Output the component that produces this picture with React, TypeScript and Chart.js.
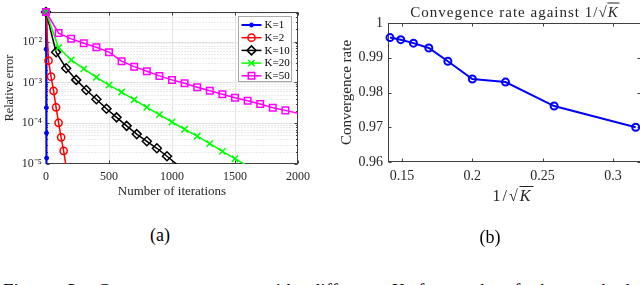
import React, { useEffect, useRef } from 'react';
import { Chart, registerables } from 'chart.js';
import { drawPoint } from 'chart.js/helpers';

Chart.register(...registerables);

const FONT = "'Liberation Serif', 'Times New Roman', serif";
const AXIS_COLOR = '#262626';

// ---------- (a) Relative error vs iterations ----------
const seriesLabels = ['K=1', 'K=2', 'K=10', 'K=20', 'K=50'];
const iterK1 = [0, 1, 3, 4, 5, 6];
const errK1 = [0.053, 6.5e-3, 2.4e-4, 5.75e-5, 1.4e-5, 3.4e-6];
const iterK2 = [0, 20, 40, 60, 80, 100, 120, 140, 160];
const errK2 = [0.053, 3.4e-3, 1.38e-3, 6.2e-4, 2.45e-4, 1.02e-4, 4.5e-5, 2.1e-5, 8.5e-6];
const iterK10 = [0, 80, 160, 240, 320, 400, 480, 560, 640, 720, 800, 880, 960, 1040];
const errK10 = [0.053, 5.5e-3, 2.22e-3, 1.15e-3, 6.5e-4, 3.85e-4, 2.26e-4, 1.39e-4, 8.6e-5, 5.4e-5, 3.6e-5, 2.43e-5, 1.55e-5, 9.7e-6];
const iterK20 = [0, 100, 200, 300, 400, 500, 600, 700, 800, 900, 1000, 1100, 1200, 1300, 1400, 1500, 1600];
const errK20 = [0.053, 7.1e-3, 3.55e-3, 2.14e-3, 1.33e-3, 8.6e-4, 5.8e-4, 3.76e-4, 2.45e-4, 1.62e-4, 1.07e-4, 7.1e-5, 4.8e-5, 3.16e-5, 2.04e-5, 1.35e-5, 8.9e-6];
const iterK50 = [0, 100, 200, 300, 400, 500, 600, 700, 800, 900, 1000, 1100, 1200, 1300, 1400, 1500, 1600, 1700, 1800, 1900, 2000];
const errK50 = [0.053, 1.61e-2, 1.165e-2, 9.1e-3, 7.27e-3, 5.5e-3, 3.3e-3, 2.43e-3, 1.88e-3, 1.44e-3, 1.15e-3, 9.5e-4, 7.6e-4, 6.25e-4, 5.12e-4, 4.2e-4, 3.55e-4, 2.95e-4, 2.4e-4, 2.06e-4, 1.74e-4];
const xTicksA = [0, 500, 1000, 1500, 2000];
const yTicksA = [1e-5, 1e-4, 1e-3, 1e-2];
const yTickLabelsA = ['10\u207B\u2075', '10\u207B\u2074', '10\u207B\u00B3', '10\u207B\u00B2'];
const X_MIN_A = 0;
const X_MAX_A = 2000;
const Y_MIN_A = 1e-5;
const Y_MAX_A = 0.053;

// ---------- (b) Convergence rate vs 1/sqrt(K) ----------
const kValues = [50, 45, 40, 35, 30, 25, 20, 15, 10];
const rates = [0.9958, 0.9952, 0.9942, 0.9928, 0.989, 0.9839, 0.983, 0.9761, 0.9700];
const xTicksB = [0.15, 0.2, 0.25, 0.3];
const xTickLabelsB = ['0.15', '0.2', '0.25', '0.3'];
const yTicksB = [0.96, 0.97, 0.98, 0.99, 1];
const yTickLabelsB = ['0.96', '0.97', '0.98', '0.99', '1'];

// ---------- styles ----------
type SeriesStyle = { color: string; width: number; pointStyle: any; radius: number; pw: number; fill: string };
const stylesA: SeriesStyle[] = [
  { color: '#0000ff', width: 2, pointStyle: 'circle', radius: 2, pw: 1, fill: '#0000ff' },
  { color: '#ff0000', width: 1.5, pointStyle: 'circle', radius: 3.6, pw: 1.5, fill: 'rgba(0,0,0,0)' },
  { color: '#000000', width: 1.5, pointStyle: 'rectRot', radius: 4.5, pw: 1.5, fill: 'rgba(0,0,0,0)' },
  { color: '#00ff00', width: 1.5, pointStyle: 'crossRot', radius: 4.5, pw: 1.5, fill: 'rgba(0,0,0,0)' },
  { color: '#ff00ff', width: 1.5, pointStyle: 'rect', radius: 4.6, pw: 1.5, fill: 'rgba(0,0,0,0)' },
];

function zip(xs: number[], ys: number[]) {
  return xs.map((x, i) => ({ x, y: ys[i] }));
}

function makeFramePlugin(cfg: {
  xTicks: number[];
  yTicks: number[];
  yMinor?: number[];
  grid?: boolean;
  tickLen: number;
}) {
  return {
    id: 'frame',
    beforeDatasetsDraw(chart: any) {
      const { ctx, chartArea: a, scales } = chart;
      const x = scales.x;
      const y = scales.y;
      const L = Math.round(a.left) + 0.5;
      const R = Math.round(a.right) - 0.5;
      const T = Math.round(a.top) + 0.5;
      const B = Math.round(a.bottom) - 0.5;
      ctx.save();
      if (cfg.grid) {
        ctx.lineWidth = 1;
        ctx.strokeStyle = '#d6d6d6';
        ctx.setLineDash([1, 2]);
        (cfg.yMinor || []).forEach((v) => {
          const py = Math.round(y.getPixelForValue(v)) + 0.5;
          if (py <= T || py >= B) return;
          ctx.beginPath();
          ctx.moveTo(L, py);
          ctx.lineTo(R, py);
          ctx.stroke();
        });
        ctx.setLineDash([]);
        ctx.strokeStyle = '#e3e3e3';
        cfg.yTicks.forEach((v) => {
          const py = Math.round(y.getPixelForValue(v)) + 0.5;
          if (py <= T || py >= B) return;
          ctx.beginPath();
          ctx.moveTo(L, py);
          ctx.lineTo(R, py);
          ctx.stroke();
        });
        cfg.xTicks.forEach((v) => {
          const px = Math.round(x.getPixelForValue(v)) + 0.5;
          if (px <= L || px >= R) return;
          ctx.beginPath();
          ctx.moveTo(px, T);
          ctx.lineTo(px, B);
          ctx.stroke();
        });
      }
      // box
      ctx.strokeStyle = '#404040';
      ctx.lineWidth = 1;
      ctx.strokeRect(L, T, R - L, B - T);
      // tick marks
      const tl = cfg.tickLen;
      ctx.beginPath();
      cfg.xTicks.forEach((v) => {
        const px = Math.round(x.getPixelForValue(v)) + 0.5;
        ctx.moveTo(px, B);
        ctx.lineTo(px, B - tl);
        ctx.moveTo(px, T);
        ctx.lineTo(px, T + tl);
      });
      cfg.yTicks.forEach((v) => {
        const py = Math.round(y.getPixelForValue(v)) + 0.5;
        ctx.moveTo(L, py);
        ctx.lineTo(L + tl, py);
        ctx.moveTo(R, py);
        ctx.lineTo(R - tl, py);
      });
      (cfg.yMinor || []).forEach((v) => {
        const py = Math.round(y.getPixelForValue(v)) + 0.5;
        if (py <= T || py >= B) return;
        ctx.moveTo(L, py);
        ctx.lineTo(L + tl * 0.5, py);
        ctx.moveTo(R, py);
        ctx.lineTo(R - tl * 0.5, py);
      });
      ctx.stroke();
      ctx.restore();
    },
  };
}

const legendPluginA = {
  id: 'lineLegend',
  afterDatasetsDraw(chart: any) {
    const { ctx, chartArea: a } = chart;
    const w = 53;
    const h = 65;
    const bx = Math.round(a.right) - 6.5 - w;
    const by = Math.round(a.top) + 4.5;
    ctx.save();
    ctx.fillStyle = '#ffffff';
    ctx.fillRect(bx, by, w, h);
    ctx.strokeStyle = '#a8a8a8';
    ctx.lineWidth = 1;
    ctx.strokeRect(bx, by, w, h);
    chart.data.datasets.forEach((ds: any, i: number) => {
      const st = stylesA[i];
      const yy = by + 8.5 + i * 12.7;
      ctx.strokeStyle = st.color;
      ctx.lineWidth = st.width;
      ctx.beginPath();
      ctx.moveTo(bx + 3, yy);
      ctx.lineTo(bx + 23, yy);
      ctx.stroke();
      ctx.fillStyle = st.fill;
      ctx.strokeStyle = st.color;
      ctx.lineWidth = st.pw;
      drawPoint(ctx, { pointStyle: st.pointStyle, rotation: 0, radius: st.radius, borderWidth: st.pw } as any, bx + 13, yy);
      ctx.fillStyle = '#000000';
      ctx.font = `11px ${FONT}`;
      ctx.textBaseline = 'middle';
      ctx.textAlign = 'left';
      ctx.fillText(ds.label, bx + 26, yy + 0.5);
    });
    ctx.restore();
  },
};

function minorLogTicks(min: number, max: number) {
  const out: number[] = [];
  for (let e = Math.floor(Math.log10(min)); e <= Math.ceil(Math.log10(max)); e++) {
    for (let k = 2; k <= 9; k++) {
      const v = k * Math.pow(10, e);
      if (v > min && v < max) out.push(v);
    }
  }
  return out;
}

function Txt(props: { x: number; y: number; size: number; children: any; style?: any }) {
  return (
    <div
      style={{
        position: 'absolute',
        left: props.x,
        top: props.y,
        transform: 'translate(-50%, -50%)',
        fontFamily: FONT,
        fontSize: props.size,
        lineHeight: 1,
        whiteSpace: 'nowrap',
        color: AXIS_COLOR,
        ...(props.style || {}),
      }}
    >
      {props.children}
    </div>
  );
}

const SqrtK = () => (
  <span>
    1/√<span style={{ fontStyle: 'italic', borderTop: '1px solid #262626', paddingRight: 1 }}>K</span>
  </span>
);

export default function App() {
  const refA = useRef<HTMLCanvasElement>(null);
  const refB = useRef<HTMLCanvasElement>(null);

  useEffect(() => {
    const seriesData = [zip(iterK1, errK1), zip(iterK2, errK2), zip(iterK10, errK10), zip(iterK20, errK20), zip(iterK50, errK50)];
    const datasetsA = seriesData.map((d, i) => {
      const st = stylesA[i];
      return {
        label: seriesLabels[i],
        data: d,
        borderColor: st.color,
        borderWidth: st.width,
        pointStyle: st.pointStyle,
        pointRadius: (c: any) => {
          const r = c.raw;
          if (!r) return st.radius;
          if (r.y < Y_MIN_A || r.x >= X_MAX_A) return 0;
          return st.radius;
        },
        pointBorderWidth: st.pw,
        pointBorderColor: st.color,
        pointBackgroundColor: st.fill,
        tension: 0,
        order: seriesLabels.length - i,
        clip: { left: 8, top: 8, right: 0, bottom: 0 },
      };
    });

    const tickFontA = { family: FONT, size: 12 };
    const chartA = new Chart(refA.current as HTMLCanvasElement, {
      type: 'line',
      data: { datasets: datasetsA as any },
      options: {
        animation: false,
        responsive: false,
        devicePixelRatio: 1,
        events: [],
        layout: { padding: { left: 0, right: 22, top: 12, bottom: 13 } },
        plugins: { legend: { display: false }, tooltip: { enabled: false }, title: { display: false } },
        scales: {
          x: {
            type: 'linear',
            min: X_MIN_A,
            max: X_MAX_A,
            grid: { display: false, drawTicks: false },
            border: { display: false },
            afterBuildTicks: (s: any) => {
              s.ticks = xTicksA.map((v) => ({ value: v }));
            },
            afterFit: (s: any) => {
              s.height = 38;
            },
            ticks: {
              autoSkip: false,
              maxRotation: 0,
              padding: 6,
              color: AXIS_COLOR,
              font: tickFontA,
              callback: (v: any) => String(v),
            },
            title: {
              display: true,
              text: 'Number of iterations',
              color: AXIS_COLOR,
              font: { family: FONT, size: 13 },
              padding: { top: 4, bottom: 3 },
            },
          },
          y: {
            type: 'logarithmic',
            min: Y_MIN_A,
            max: Y_MAX_A,
            grid: { display: false, drawTicks: false },
            border: { display: false },
            afterBuildTicks: (s: any) => {
              s.ticks = yTicksA.map((v) => ({ value: v }));
            },
            afterFit: (s: any) => {
              s.width = 46;
            },
            ticks: {
              autoSkip: false,
              padding: 4,
              color: AXIS_COLOR,
              font: tickFontA,
              callback: (v: any) => {
                const idx = yTicksA.indexOf(Number(v));
                return idx >= 0 ? yTickLabelsA[idx] : '';
              },
            },
            title: {
              display: true,
              text: 'Relative error',
              color: AXIS_COLOR,
              font: { family: FONT, size: 12 },
              padding: { top: 3, bottom: 4 },
            },
          },
        },
      } as any,
      plugins: [
        makeFramePlugin({ xTicks: xTicksA, yTicks: yTicksA, yMinor: minorLogTicks(Y_MIN_A, Y_MAX_A), grid: true, tickLen: 3 }),
        legendPluginA,
      ],
    });

    const tickFontB = { family: FONT, size: 14 };
    const chartB = new Chart(refB.current as HTMLCanvasElement, {
      type: 'line',
      data: {
        datasets: [
          {
            label: 'Convergence rate',
            data: kValues.map((k, i) => ({ x: 1 / Math.sqrt(k), y: rates[i] })),
            borderColor: '#0000ff',
            borderWidth: 2,
            pointStyle: 'circle',
            pointRadius: 3.5,
            pointBorderWidth: 2,
            pointBorderColor: '#0000ff',
            pointBackgroundColor: 'rgba(0,0,0,0)',
            tension: 0,
            clip: 10,
          } as any,
        ],
      },
      options: {
        animation: false,
        responsive: false,
        devicePixelRatio: 1,
        events: [],
        layout: { padding: { left: 15, right: 9, top: 23, bottom: 13 } },
        plugins: { legend: { display: false }, tooltip: { enabled: false }, title: { display: false } },
        scales: {
          x: {
            type: 'linear',
            min: 0.14,
            max: 0.32,
            grid: { display: false, drawTicks: false },
            border: { display: false },
            afterBuildTicks: (s: any) => {
              s.ticks = xTicksB.map((v) => ({ value: v }));
            },
            afterFit: (s: any) => {
              s.height = 40;
            },
            ticks: {
              autoSkip: false,
              maxRotation: 0,
              padding: 6,
              color: AXIS_COLOR,
              font: tickFontB,
              callback: (v: any) => {
                const idx = xTicksB.indexOf(Number(v));
                return idx >= 0 ? xTickLabelsB[idx] : '';
              },
            },
          },
          y: {
            type: 'linear',
            min: 0.96,
            max: 1,
            grid: { display: false, drawTicks: false },
            border: { display: false },
            afterBuildTicks: (s: any) => {
              s.ticks = yTicksB.map((v) => ({ value: v }));
            },
            afterFit: (s: any) => {
              s.width = 53;
            },
            ticks: {
              autoSkip: false,
              padding: 5,
              color: AXIS_COLOR,
              font: tickFontB,
              callback: (v: any) => {
                const idx = yTicksB.indexOf(Number(v));
                return idx >= 0 ? yTickLabelsB[idx] : '';
              },
            },
            title: {
              display: true,
              text: 'Convergence rate',
              color: AXIS_COLOR,
              font: { family: FONT, size: 15 },
              padding: { top: 3, bottom: 4 },
            },
          },
        },
      } as any,
      plugins: [makeFramePlugin({ xTicks: xTicksB, yTicks: yTicksB, grid: false, tickLen: 3 })],
    });

    return () => {
      chartA.destroy();
      chartB.destroy();
    };
  }, []);

  return (
    <div
      style={{
        position: 'absolute',
        left: 0,
        top: 0,
        width: 640,
        height: 285,
        overflow: 'hidden',
        background: '#ffffff',
      }}
    >
      <canvas ref={refA} width={320} height={215} style={{ position: 'absolute', left: 0, top: 0, width: 320, height: 215 }} />
      <canvas ref={refB} width={330} height={215} style={{ position: 'absolute', left: 320, top: 0, width: 330, height: 215 }} />
      <Txt x={515} y={12} size={15} style={{ letterSpacing: 1 }}>
        Convegence rate against <SqrtK />
      </Txt>
      <Txt x={513} y={196} size={16} style={{ letterSpacing: 2 }}>
        <SqrtK />
      </Txt>
      <Txt x={160} y={235} size={18} style={{ color: '#000' }}>
        (a)
      </Txt>
      <Txt x={490} y={237} size={18} style={{ color: '#000' }}>
        (b)
      </Txt>
      <div
        style={{
          position: 'absolute',
          left: 3,
          top: 280,
          fontFamily: FONT,
          fontSize: 19,
          lineHeight: 1.15,
          whiteSpace: 'nowrap',
          color: '#000',
          wordSpacing: 10,
        }}
      >
        Figure 3: Convergence rates with different <i>K</i> for each of the methods, calculated
      </div>
    </div>
  );
}
